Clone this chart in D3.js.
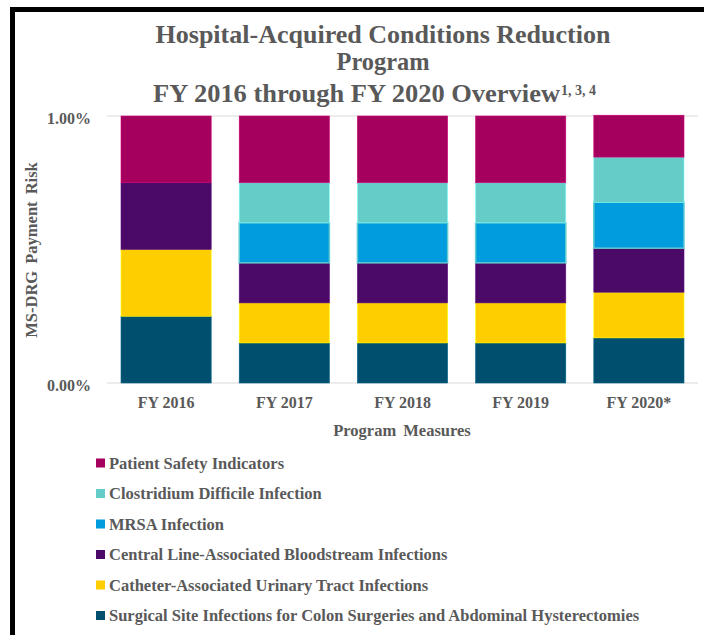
<!DOCTYPE html>
<html>
<head>
<meta charset="utf-8">
<style>
  body { margin: 0; background: #fff; }
  svg text { font-family: "Liberation Serif", "DejaVu Serif", serif; font-weight: bold; fill: #595959; }
</style>
</head>
<body>
<svg id="chart" width="704" height="635" viewBox="0 0 704 635" xmlns="http://www.w3.org/2000/svg"></svg>
<script src="https://d3js.org/d3.v7.min.js"></script>
<script>

// categories (x axis)
const years = ["FY 2016", "FY 2017", "FY 2018", "FY 2019", "FY 2020*"];

// measures, bottom of the stack first
const measures = [
  "Surgical Site Infections for Colon Surgeries and Abdominal Hysterectomies",
  "Catheter-Associated Urinary Tract Infections",
  "Central Line-Associated Bloodstream Infections",
  "MRSA Infection",
  "Clostridium Difficile Infection",
  "Patient Safety Indicators"
];
const colors = ["#004F6E", "#FFCE00", "#4B0A67", "#009CDE", "#66CCC8", "#A6005E"];

// payment risk share (%) per year, one array per measure
const ssi    = [0.25, 0.15, 0.15, 0.15, 0.169];
const cauti  = [0.25, 0.15, 0.15, 0.15, 0.171];
const clabsi = [0.25, 0.15, 0.15, 0.15, 0.165];
const mrsa   = [0.00, 0.15, 0.15, 0.15, 0.172];
const cdi    = [0.00, 0.15, 0.15, 0.15, 0.169];
const psi    = [0.25, 0.25, 0.25, 0.25, 0.157];
const series = [ssi, cauti, clabsi, mrsa, cdi, psi];

const yTicks = [0, 1];

const svg = d3.select("#chart");

// frame (left and top edges only are visible)
svg.append("line").attr("x1", 12.5).attr("y1", 7).attr("x2", 12.5).attr("y2", 635)
  .attr("stroke", "#000").attr("stroke-width", 5);
svg.append("line").attr("x1", 10).attr("y1", 9.5).attr("x2", 704).attr("y2", 9.5)
  .attr("stroke", "#000").attr("stroke-width", 5);

// scales
const x = d3.scaleBand()
  .domain(years)
  .range([107, 698])
  .paddingInner(0.237)
  .paddingOuter(0.1185);

const y = d3.scaleLinear()
  .domain([0, 1])
  .range([383, 116]);

// gridlines
svg.append("g")
  .selectAll("line")
  .data(yTicks)
  .join("line")
  .attr("x1", 107)
  .attr("x2", 698)
  .attr("y1", d => y(d))
  .attr("y2", d => y(d))
  .attr("stroke", "#d9d9d9")
  .attr("stroke-width", 1);

// stacked bars
const table = years.map((yr, i) => {
  const row = { year: yr };
  measures.forEach((m, j) => { row[m] = series[j][i]; });
  return row;
});
const stacked = d3.stack().keys(measures)(table);

svg.append("g")
  .selectAll("g")
  .data(stacked)
  .join("g")
  .attr("fill", (d, i) => colors[i])
  .attr("stroke", (d, i) => i === 3 ? "#5FCBD0" : d3.color(colors[i]).brighter(0.6))
  .attr("stroke-width", (d, i) => i === 3 ? 1.5 : 0.6)
  .selectAll("rect")
  .data(d => d.filter(s => s[1] - s[0] > 0))
  .join("rect")
  .attr("x", d => x(d.data.year))
  .attr("width", x.bandwidth())
  .attr("y", d => y(d[1]))
  .attr("height", d => y(d[0]) - y(d[1]));

// y axis labels
const yAxis = d3.axisLeft(y)
  .tickValues(yTicks)
  .tickSize(0)
  .tickPadding(0)
  .tickFormat(d => d.toFixed(2) + "%");
const yg = svg.append("g").attr("transform", "translate(91,2)").call(yAxis);
yg.select(".domain").remove();
yg.selectAll("text").attr("font-size", 16).attr("fill", "#595959")
  .style("font-family", "Liberation Serif").style("font-weight", "bold");

// x axis labels
const xAxis = d3.axisBottom(x).tickSize(0).tickPadding(0);
const xg = svg.append("g").attr("transform", "translate(0,397)").call(xAxis);
xg.select(".domain").remove();
xg.selectAll("text").attr("font-size", 16).attr("fill", "#595959")
  .style("font-family", "Liberation Serif").style("font-weight", "bold");

// axis titles
svg.append("text")
  .attr("x", 402)
  .attr("y", 436)
  .attr("text-anchor", "middle")
  .attr("font-size", 16.5)
  .attr("word-spacing", 3)
  .text("Program Measures");

svg.append("text")
  .attr("transform", "translate(37,250) rotate(-90)")
  .attr("text-anchor", "middle")
  .attr("font-size", 16.5)
  .attr("word-spacing", 3)
  .text("MS-DRG Payment Risk");

// title
svg.append("text")
  .attr("x", 383).attr("y", 43)
  .attr("text-anchor", "middle")
  .attr("font-size", 24.5)
  .attr("textLength", 455).attr("lengthAdjust", "spacingAndGlyphs")
  .text("Hospital-Acquired Conditions Reduction");
svg.append("text")
  .attr("x", 383).attr("y", 70)
  .attr("text-anchor", "middle")
  .attr("font-size", 24.5)
  .attr("textLength", 93).attr("lengthAdjust", "spacingAndGlyphs")
  .text("Program");
svg.append("text")
  .attr("x", 560).attr("y", 102)
  .attr("text-anchor", "end")
  .attr("font-size", 24.5)
  .attr("textLength", 407).attr("lengthAdjust", "spacingAndGlyphs")
  .text("FY 2016 through FY 2020 Overview");
svg.append("text")
  .attr("x", 561).attr("y", 95)
  .attr("font-size", 14)
  .text("1, 3, 4");

// legend, top item first
const legendOrder = measures.map((m, i) => i).reverse();
const lg = svg.append("g")
  .selectAll("g")
  .data(legendOrder)
  .join("g")
  .attr("transform", (d, i) => `translate(96,${463 + i * 30.5})`);
lg.append("rect")
  .attr("x", 0).attr("y", -4.5)
  .attr("width", 9).attr("height", 9)
  .attr("fill", d => colors[d]);
lg.append("text")
  .attr("x", 13).attr("y", 5.5)
  .attr("font-size", 16.5)
  .text(d => measures[d]);
</script>
</body>
</html>
